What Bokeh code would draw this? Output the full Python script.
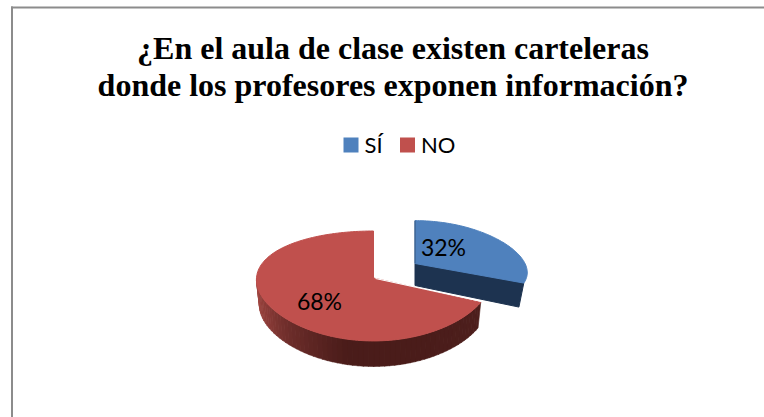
import numpy as np
from bokeh.plotting import figure
from bokeh.models import Range1d
from bokeh.core.properties import value
from bokeh.embed import file_html
from bokeh.resources import INLINE

title_lines = ["¿En el aula de clase existen carteleras",
               "donde los profesores exponen información?"]
categories = ["SÍ", "NO"]
shares = [32, 68]
colors = ["#4F81BD", "#C0504D"]

W, H = 764, 417
p = figure(width=W, height=H, output_backend="svg", toolbar_location=None,
           x_range=Range1d(0, W), y_range=Range1d(H, 0),
           min_border=0, outline_line_color=None, background_fill_color="white")
p.xaxis.visible = False
p.yaxis.visible = False
p.grid.visible = False


def proj(theta, cx, cy, rx, a, kx, ky, sx=1.0, dy=0.0):
    t = np.radians(theta)
    u, v = np.sin(t), -np.cos(t)
    x = cx + sx * rx * u / (1 - kx * v)
    y = cy + dy + a * v / (1 - ky * v)
    return x, y


split = 360 * shares[0] / sum(shares)
BLUE = dict(cx=414.5, cy=263, rx=110, a=45, kx=0.2, ky=0.05)
RED = dict(cx=373, cy=277.5, rx=117, a=53.8, kx=0.03, ky=0.145)

# frame
p.line([11.5, 11.5], [6, H], line_color="#8C8C8C", line_width=2)
p.line([10.5, W], [7, 7], line_color="#8C8C8C", line_width=2)

# exploded blue slice: front face, then top
bx0, by0 = BLUE["cx"], BLUE["cy"]
bxe, bye = proj(split, **BLUE)
bxl, byl = proj(split, sx=0.955, dy=24, **BLUE)
p.patch([bx0, bxe, bxl, bx0], [by0, bye, byl, by0 + 22],
        fill_color="#1D3350", line_color="#1D3350", line_width=1)
th = np.linspace(0, split, 80)
ax, ay = proj(th, **BLUE)
p.patch(np.r_[bx0, ax], np.r_[by0, ay], fill_color=colors[0],
        line_color=colors[0], line_width=1)
p.line([bx0, bx0], [by0, proj(0, **BLUE)[1]], line_color="#34567F", line_width=1)

# red slice: shaded rim strips
edges = np.linspace(split, 270, 61)
stops_t = np.array([0.0, 0.22, 0.5, 0.72, 0.85, 1.0])
stops_rgb = np.array([[78, 32, 29], [75, 29, 27], [74, 28, 26],
                      [110, 46, 43], [140, 60, 56], [160, 70, 65]])
xs, ys, cs = [], [], []
for i in range(len(edges) - 1):
    a0, a1 = edges[i], edges[i + 1] + 0.3
    tt = np.linspace(a0, a1, 3)
    x1, y1 = proj(tt, **RED)
    x2, y2 = proj(tt[::-1], sx=0.975, dy=25.5, **RED)
    xs.append(np.r_[x1, x2])
    ys.append(np.r_[y1, y2])
    f = i / (len(edges) - 2)
    rgb = [int(np.interp(f, stops_t, stops_rgb[:, c])) for c in range(3)]
    cs.append("#%02X%02X%02X" % tuple(rgb))
p.patches(xs, ys, fill_color=cs, line_color=cs, line_width=0.6)

# red top
th = np.linspace(split, 360, 160)
rx, ry = proj(th, **RED)
p.patch(np.r_[RED["cx"], rx], np.r_[RED["cy"], ry], fill_color=colors[1],
        line_color=colors[1], line_width=1)
rxe, rye = proj(split, **RED)
p.line([RED["cx"] + 2, rxe], [RED["cy"] + 0.5, rye - 1.2], line_color="white", line_width=1.2)

# percentage labels
label_x = [443, 319]
label_y = [246, 300]
p.text(label_x, label_y, text=[f"{v}%" for v in shares], text_font=value("Lato"),
       text_font_size="23px", text_color="black", text_align="center", text_baseline="middle")

# title
p.text([392.5, 392.5], [47, 84], text=title_lines, text_font=value("Liberation Serif"),
       text_font_size="32px", text_font_style="bold", text_color="black",
       text_align="center", text_baseline="middle")

# legend
sw_x = [350.5, 407]
p.rect(sw_x, [144.5, 144.5], width=15, height=15, fill_color=colors, line_color=None)
p.text([364, 420.5], [143.5, 143.5], text=categories, text_font=value("Lato"),
       text_font_size="22px", text_color="black", text_align="left", text_baseline="middle")

open("out.html", "w").write(file_html(p, INLINE))
